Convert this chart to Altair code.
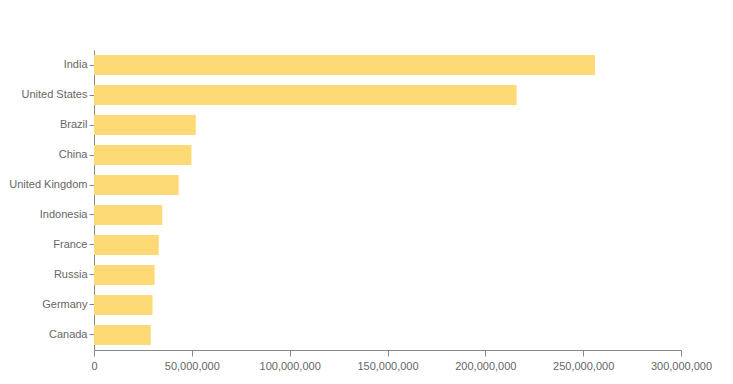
import altair as alt
import pandas as pd

countries = ["India", "United States", "Brazil", "China", "United Kingdom",
             "Indonesia", "France", "Russia", "Germany", "Canada"]
values = [256000000, 216000000, 52000000, 49800000, 43300000,
          34900000, 33100000, 31000000, 29900000, 29000000]

df = pd.DataFrame({"country": countries, "value": values})

chart = alt.Chart(df).mark_bar(color="#FEDA77").encode(
    y=alt.Y("country:N", sort=countries,
            scale=alt.Scale(paddingInner=0.333, paddingOuter=0.167),
            axis=alt.Axis(title=None, labelFontSize=11, labelColor="#666666",
                          labelFont="Liberation Sans", tickSize=5, labelPadding=2,
                          domainColor="#888888", tickColor="#888888")),
    x=alt.X("value:Q", scale=alt.Scale(domain=[0, 300000000], nice=False),
            axis=alt.Axis(title=None, format=",d", values=[0, 50000000, 100000000, 150000000,
                                                         200000000, 250000000, 300000000],
                          grid=False, labelFontSize=11, labelColor="#666666",
                          labelFont="Liberation Sans", tickSize=6, labelPadding=4,
                          labelFlush=False, labelOverlap=False,
                          domainColor="#888888", tickColor="#888888")),
).properties(
    width=587, height=300,
    padding={"left": 0, "top": 42, "right": 5, "bottom": 5},
).configure_view(stroke=None)

chart.save("out.html", embed_options={"renderer": "svg", "actions": False})
